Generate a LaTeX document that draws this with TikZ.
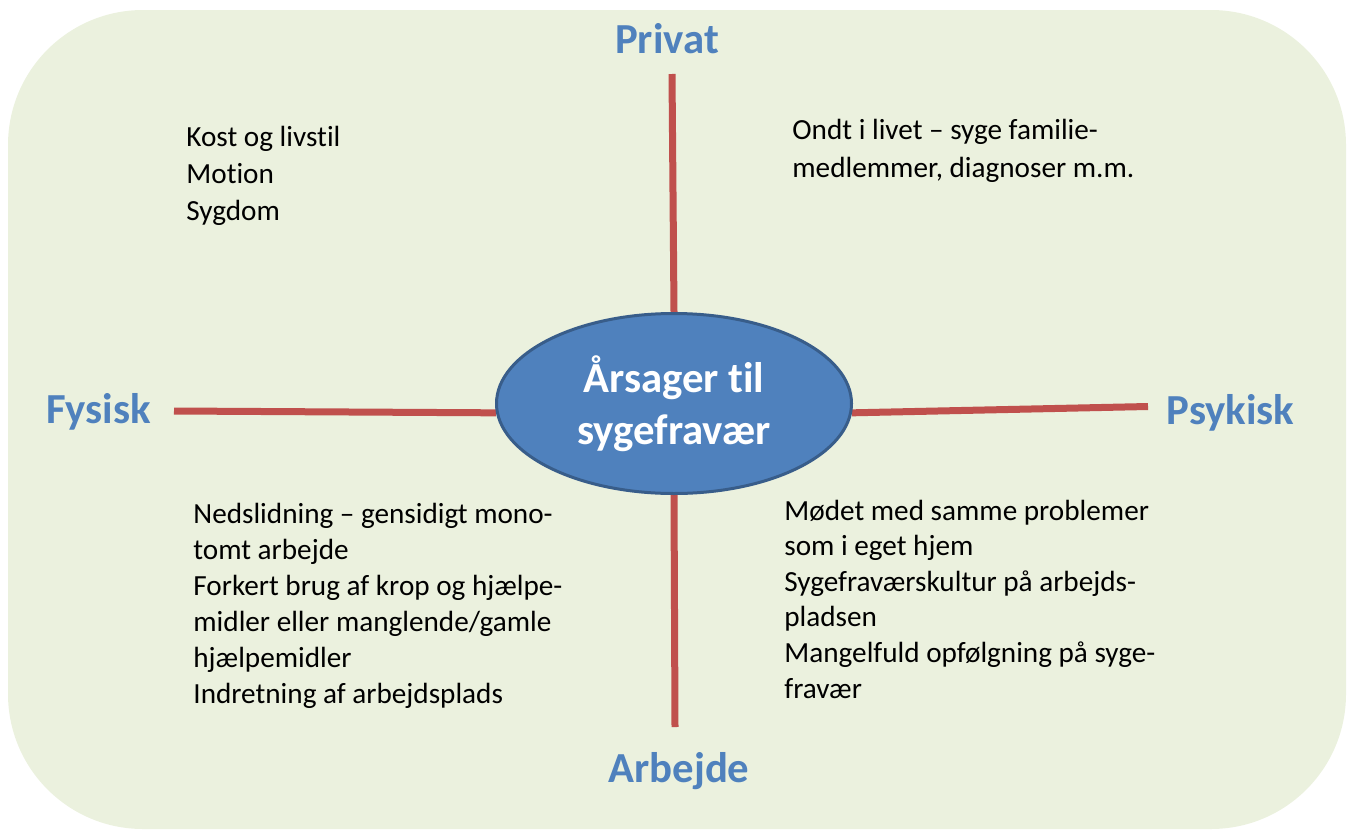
\documentclass[tikz,border=0pt]{standalone}
\usepackage{fontspec}
\setmainfont{Carlito}[Ligatures=NoCommon]
\usetikzlibrary{shapes.geometric,backgrounds}
\definecolor{panelgreen}{HTML}{EBF1DE}
\definecolor{headblue}{HTML}{4F81BD}
\definecolor{hubedge}{HTML}{385D8A}
\definecolor{spokered}{HTML}{C0504D}

\begin{document}
\begin{tikzpicture}[x=0.5pt, y=-0.5pt,
  spoke/.style={spokered, line width=3.5pt},
  head/.style={headblue, anchor=base, inner sep=0pt, font=\fontsize{21.4}{25}\selectfont\bfseries},
  note/.style={anchor=base west, align=left, inner sep=0pt, font=\fontsize{14.6}{18}\selectfont}]
\useasboundingbox (0,0) rectangle (1349,830);

\node[ellipse, fill=headblue, draw=hubedge, line width=1.5pt, minimum width=177.5pt, minimum height=90pt,
  inner sep=0pt, text=white, align=center, font=\fontsize{21.4}{26}\selectfont\bfseries]
  (hub) at (674,403.5) {Årsager til\\sygefravær};

\node[head] (privat) at (667,53) {Privat};
\node[head] (fysisk) at (98.5,423) {Fysisk};
\node[head] (psykisk) at (1230.5,424) {Psykisk};
\node[head] (arbejde) at (679,782) {Arbejde};

% free ends of the four axes
\coordinate (privatend) at (672,74);
\coordinate (arbejdeend) at (675,727);
\coordinate (fysiskend) at (174,411);
\coordinate (psykiskend) at (1148,406.5);

% the base anchor sits on the last line
\node[note, font=\fontsize{14.6}{18.5}\selectfont] (kost) at (186,220) {Kost og livstil\\Motion\\Sygdom};
\node[note, font=\fontsize{14.6}{18.8}\selectfont] (ondt) at (792,177) {Ondt i livet -- syge familie-\\medlemmer, diagnoser m.m.};
\node[note] (slid) at (193,703) {Nedslidning -- gensidigt mono-\\tomt arbejde\\Forkert brug af krop og hjælpe-\\midler eller manglende/gamle\\hjælpemidler\\Indretning af arbejdsplads};
\node[note, font=\fontsize{14.6}{17.8}\selectfont] (moedet) at (784,698) {Mødet med samme problemer\\som i eget hjem\\Sygefraværskultur på arbejds-\\pladsen\\Mangelfuld opfølgning på syge-\\fravær};

\begin{scope}[on background layer]
\fill[panelgreen, rounded corners=67.5pt] (8,10) rectangle (1346,829);
\foreach \a/\b in {privatend/hub.north, hub.south/arbejdeend, fysiskend/hub.183, hub.357/psykiskend}
  \draw[spoke] (\a) -- (\b);
\end{scope}
\end{tikzpicture}
\end{document}
